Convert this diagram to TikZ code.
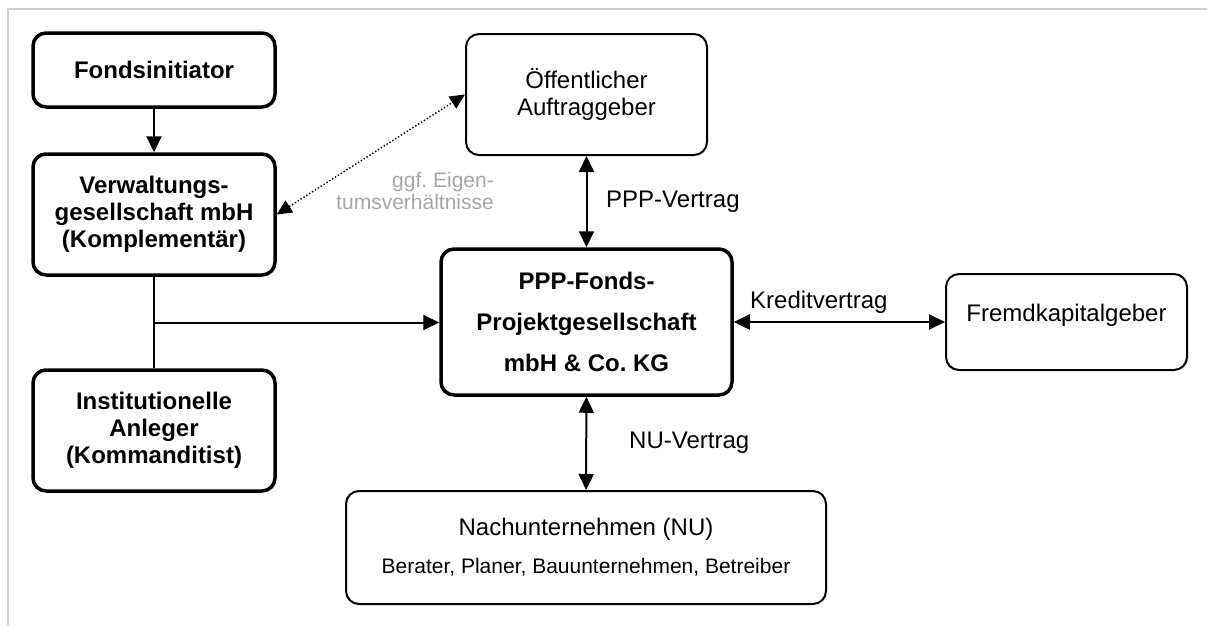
\documentclass[tikz,border=0pt]{standalone}
\usepackage{fontspec}
\setmainfont{Liberation Sans}
\usepackage{xcolor}
\usepackage{tikz}
\usetikzlibrary{calc,arrows.meta}
\definecolor{ink}{HTML}{000000}
\definecolor{frame}{HTML}{D0D0D0}
\definecolor{muted}{HTML}{A6A6A6}
\tikzset{
  fatbox/.style={draw=ink, line width=3.5pt, rounded corners=13pt, align=center, inner sep=0pt,
    minimum width=242pt, font=\fontsize{24}{27}\selectfont\bfseries},
  thinbox/.style={draw=ink, line width=2pt, rounded corners=13pt, align=center, inner sep=0pt,
    font=\fontsize{24}{27}\selectfont},
  conn/.style={draw=ink, line width=2pt},
  arr/.style={conn, -{Triangle[length=16pt,width=15pt]}},
  biarr/.style={conn, {Triangle[length=16pt,width=15pt]}-{Triangle[length=16pt,width=15pt]}},
  dotarr/.style={draw=ink, line width=1.4pt, dotted, {Triangle[length=15pt,width=14pt]}-{Triangle[length=15pt,width=14pt]}},
  lbl/.style={text=ink, anchor=west, inner sep=0pt, font=\fontsize{24}{27}\selectfont},
  mlabel/.style={text=muted, anchor=east, align=right, inner sep=0pt, font=\fontsize{21}{22}\selectfont}
}

\begin{document}
\begin{tikzpicture}[x=1pt, y=-1pt]
  \useasboundingbox (0,0) rectangle (1207,627);
  \draw[draw=frame, line width=2pt] (8,627) -- (8,9) -- (1207,9);

  % left column
  \node[fatbox, minimum height=74pt] (fonds) at (154,70) {Fondsinitiator};
  \node[fatbox, minimum height=121pt] (verw) at (154,214.5) {Verwaltungs-\\gesellschaft mbH\\(Komplementär)};
  \node[fatbox, minimum height=121pt] (anleger) at (154,430.5) {Institutionelle\\Anleger\\(Kommanditist)};

  % centre and right
  \node[thinbox, minimum width=241pt, minimum height=121pt] (oeff) at (586.5,94.5) {Öffentlicher\\Auftraggeber};
  \node[fatbox, minimum width=291pt, minimum height=146pt] (ppp) at (586.5,322)
    {PPP-Fonds-\\[14pt]Projektgesellschaft\\[14pt]mbH \& Co.\ KG};
  \node[thinbox, minimum width=241pt, minimum height=96pt, text depth=19pt] (fremd) at (1066.5,322) {Fremdkapitalgeber};
  \node[thinbox, minimum width=480pt, minimum height=113pt] (nu) at (586,547.5)
    {Nachunternehmen (NU)\\[11pt]{\fontsize{21}{24}\selectfont Berater, Planer, Bauunternehmen, Betreiber}};

  \coordinate (junc) at ($(verw.south)!0.5!(anleger.north)$);

  \draw[arr] (fonds) -- (verw);
  \draw[conn] (verw) -- (anleger);
  \draw[arr] (junc) -- (junc -| ppp.west);
  \draw[biarr] (oeff) -- (ppp);
  \draw[biarr] (ppp) -- (fremd);
  \draw[biarr] (ppp) -- (nu);
  \draw[dotarr] (verw.east) -- (oeff.west);

  \node[lbl] (lppp) at (606,202) {PPP-Vertrag};
  \node[lbl] (lkredit) at (750,302) {Kreditvertrag};
  \node[lbl] (lnu) at (629,443) {NU-Vertrag};
  \node[mlabel] (leigen) at (494,191) {ggf.\ Eigen-\\tumsverhältnisse};
\end{tikzpicture}
\end{document}
